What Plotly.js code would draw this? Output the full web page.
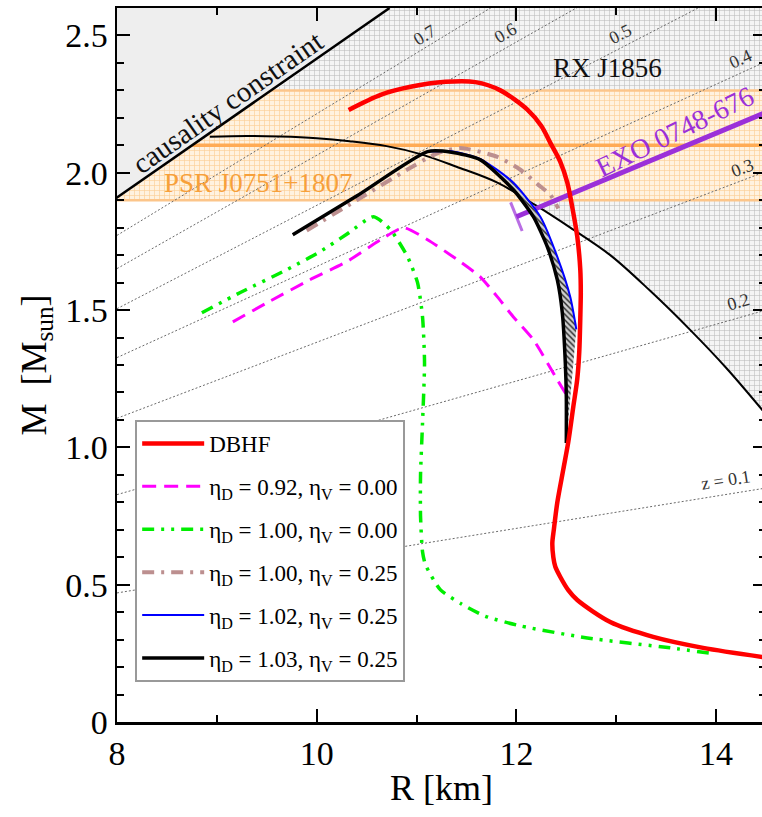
<!DOCTYPE html>
<html><head><meta charset="utf-8">
<script src="https://cdn.plot.ly/plotly-3.0.1.min.js"></script>
<style>
html,body{margin:0;padding:0;overflow:hidden;background:#fff}
#chart text {font-family:"Liberation Serif", serif !important;}
</style>
</head><body><div id="chart" style="width:770px;height:817px"></div>
<script>
// ---- data ----
const xRange = [8, 14.5];
const yRange = [0, 2.6];

// DBHF
const dbhfR = [10.32,10.64,10.94,11.29,11.59,11.84,12.11,12.25,12.34,12.44,12.51,12.57,12.61,12.64,12.645,12.64,12.63,12.61,12.57,12.52,12.47,12.41,12.375,12.36,12.37,12.39,12.44,12.52,12.61,12.94,13.37,13.87,14.5];
const dbhfM = [2.229,2.284,2.313,2.331,2.33,2.30,2.23,2.17,2.109,2.04,1.964,1.854,1.767,1.647,1.563,1.47,1.35,1.25,1.148,1.02,0.92,0.80,0.70,0.652,0.60,0.565,0.528,0.48,0.444,0.364,0.31,0.27,0.235];
// eta_D = 0.92, eta_V = 0.00
const m092R = [9.16,9.50,9.93,10.30,10.64,10.87,11.11,11.41,11.64,11.81,11.97,12.17,12.41,12.52];
const m092M = [1.457,1.526,1.61,1.676,1.756,1.80,1.756,1.683,1.62,1.548,1.475,1.392,1.246,1.18];
// eta_D = 1.00, eta_V = 0.00
const m100R = [8.85,9.23,9.70,10.03,10.30,10.57,10.74,10.91,11.01,11.06,11.08,11.06,11.04,11.04,11.06,11.09,11.24,11.45,11.69,12.04,12.71,13.54,13.95];
const m100M = [1.49,1.563,1.647,1.712,1.776,1.84,1.792,1.694,1.60,1.475,1.308,1.089,0.90,0.75,0.62,0.572,0.481,0.43,0.385,0.35,0.306,0.27,0.25];
// eta_D = 1.00, eta_V = 0.25
const m100vR = [9.9,10.4,10.9,11.2,11.44,11.81,12.04,12.22,12.34,12.42];
const m100vM = [1.79,1.90,2.01,2.07,2.09,2.058,2.011,1.956,1.92,1.87];
// eta_D = 1.02, eta_V = 0.25
const m102R = [11.11,11.35,11.64,11.97,12.24,12.41,12.54,12.59,12.60];
const m102M = [2.077,2.078,2.05,1.964,1.84,1.694,1.548,1.453,1.43];
// eta_D = 1.03, eta_V = 0.25
const m103R = [9.76,10.4,11.11,11.35,11.64,11.97,12.17,12.31,12.41,12.46,12.49,12.50,12.50];
const m103M = [1.774,1.915,2.077,2.075,2.047,1.938,1.84,1.73,1.61,1.49,1.308,1.184,1.016];

// causality constraint line
const causR = [8, 10.73];
const causM = [1.91, 2.6];
// RX J1856 constraint curve
const rxR = [8.93,9.3,9.63,10.0,10.33,10.7,11.04,11.4,11.81,12.2,12.54,12.94,13.34,13.74,14.1,14.5];
const rxM = [2.131,2.134,2.132,2.126,2.115,2.097,2.068,2.022,1.964,1.88,1.80,1.70,1.57,1.428,1.29,1.12];
// PSR J0751+1807 : M = 2.1 +- 0.2
const psrMass = 2.1, psrErr = 0.2;
// EXO 0748-676
const exoR = [12.0, 14.5];
const exoM = [1.84, 2.22];
// gravitational redshift lines
const zLabels = ['z = 0.1','0.2','0.3','0.4','0.5','0.6','0.7'];
const zLineR = [8, 14.5];
const zLineM = [[0.470,0.852],[0.828,1.500],[1.106,2.005],[1.327,2.405],[1.505,2.728],[1.651,2.992],[1.772,3.211]];
const zLabelR = [14.10,14.22,14.26,14.24,13.04,11.89,11.08];
const zLabelM = [0.88,1.53,2.018,2.415,2.506,2.51,2.503];
const zLabelAng = [-9,-16,-21,-25,-27,-30,-31];
// axis ticks
const xTickVals = [8,10,12,14];
const xTickText = ['8','10','12','14'];
const yTickVals = [0,0.5,1,1.5,2,2.5];
const yTickText = ['0','0.5','1.0','1.5','2.0','2.5'];

// ---- build ----
const SERIF = 'Liberation Serif';
function causX(m){ return causR[0] + (m - causM[0])*(causR[1]-causR[0])/(causM[1]-causM[0]); }
const traces = [];
const bg = {mode:'lines', hoverinfo:'skip', showlegend:false};

// RX J1856 excluded region
traces.push(Object.assign({}, bg, {
  x: rxR.concat([xRange[1], causR[1]]), y: rxM.concat([yRange[1], causM[1]]),
  line:{width:0}, fill:'toself', fillcolor:'#f2f2f2',
  fillpattern:{shape:'+', bgcolor:'#f5f5f5', fgcolor:'#bdbdbd', size:5, solidity:0.22}
}));
// PSR band
const lo = psrMass - psrErr, hi = psrMass + psrErr;
traces.push(Object.assign({}, bg, {
  x: [causX(lo), xRange[1], xRange[1], causX(hi)], y: [lo, lo, hi, hi],
  line:{width:0}, fill:'toself', fillcolor:'#fff0dc',
  fillpattern:{shape:'+', bgcolor:'#fff2e0', fgcolor:'#fccf98', size:5, solidity:0.25}
}));
[[lo,'#fcc58a',2.5],[hi,'#fcc58a',2.5],[psrMass,'#ffab55',3.5]].forEach(function(b){
  traces.push(Object.assign({}, bg, {x:[causX(b[0]), xRange[1]], y:[b[0], b[0]], line:{color:b[1], width:b[2]}}));
});
// redshift lines
zLineM.forEach(function(m){
  traces.push(Object.assign({}, bg, {x: zLineR, y: m, line:{color:'#6a6a6a', width:1, dash:'2px,2px'}}));
});
// causality region
traces.push(Object.assign({}, bg, {
  x: [causR[0], causR[1], xRange[0]], y: [causM[0], causM[1], yRange[1]],
  line:{width:0}, fill:'toself', fillcolor:'#eeeeee'
}));
traces.push(Object.assign({}, bg, {x: [xRange[0]-0.2].concat(causR), y: [causM[0]-0.2*(causM[1]-causM[0])/(causR[1]-causR[0])].concat(causM), line:{color:'#000', width:2.5}}));
// RX curve
traces.push(Object.assign({}, bg, {x: rxR, y: rxM, line:{color:'#000', width:2, shape:'spline'}}));
// EXO
traces.push({x: exoR, y: exoM, mode:'lines+markers', hoverinfo:'skip', showlegend:false,
  line:{color:'#9b30d9', width:5},
  marker:{symbol:'line-ns-open', size:[22,0], angle:-22, color:'#9b30d9', line:{color:'#9b30d9', width:3}}});

// model curves
traces.push({name:'η<sub>D</sub> = 0.92, η<sub>V</sub> = 0.00', legendrank:2, legendgroup:'g2', x:m092R, y:m092M, mode:'lines',
  line:{color:'#ff00ff', width:3, dash:'14px,8px', shape:'spline', smoothing:0.6}});
traces.push({name:'η<sub>D</sub> = 1.00, η<sub>V</sub> = 0.00', legendrank:3, legendgroup:'g3', x:m100R, y:m100M, mode:'lines',
  line:{color:'#00ee00', width:3.5, dash:'12px,7px,3px,7px,3px,7px', shape:'spline', smoothing:0.6}});
traces.push({name:'η<sub>D</sub> = 1.00, η<sub>V</sub> = 0.25', legendrank:4, legendgroup:'g4', x:m100vR, y:m100vM, mode:'lines',
  line:{color:'#bc8f8f', width:4, dash:'12px,7px,3px,7px', shape:'spline', smoothing:0.6}});
// hatched band between eta_D = 1.02 and 1.03
const ip = m103M.indexOf(Math.max.apply(null, m103M));
traces.push(Object.assign({}, bg, {
  x: m103R.slice(ip).concat(m102R.slice().reverse()), y: m103M.slice(ip).concat(m102M.slice().reverse()),
  line:{width:0}, fill:'toself', fillcolor:'#bbbbbb',
  fillpattern:{shape:'\\', bgcolor:'#d0d0d0', fgcolor:'#222', size:4, solidity:0.35}
}));
traces.push({name:'η<sub>D</sub> = 1.02, η<sub>V</sub> = 0.25', legendrank:5, legendgroup:'g5', x:m102R, y:m102M, mode:'lines',
  line:{color:'#0000ff', width:2, shape:'spline', smoothing:0.6}});
traces.push({name:'η<sub>D</sub> = 1.03, η<sub>V</sub> = 0.25', legendrank:6, legendgroup:'g6', x:m103R, y:m103M, mode:'lines',
  line:{color:'#000', width:3.5, shape:'spline', smoothing:0.6}});
traces.push({name:'DBHF', legendrank:1, legendgroup:'g1', x:dbhfR, y:dbhfM, mode:'lines',
  line:{color:'#ff0000', width:4.5, shape:'spline', smoothing:0.8}});

const ann = [];
zLabels.forEach(function(t,i){
  ann.push({x:zLabelR[i], y:zLabelM[i], xref:'x', yref:'y', text:t, showarrow:false, textangle:zLabelAng[i],
    font:{family:SERIF, size:18, color:'#333'}});
});
ann.push({x:9.11, y:2.258, xref:'x', yref:'y', text:'causality constraint', showarrow:false, textangle:-35,
  font:{family:SERIF, size:29, color:'#111'}});
ann.push({x:12.91, y:2.382, xref:'x', yref:'y', text:'RX J1856', showarrow:false,
  font:{family:SERIF, size:27, color:'#111'}});
ann.push({x:9.42, y:1.964, xref:'x', yref:'y', text:'PSR J0751+1807', showarrow:false,
  font:{family:SERIF, size:27, color:'#f7a03a'}});
ann.push({x:13.59, y:2.149, xref:'x', yref:'y', text:'EXO 0748-676', showarrow:false, textangle:-26,
  font:{family:SERIF, size:28, color:'#9b30d9'}});

const layout = {
  width:770, height:817, margin:{l:117, r:4, t:8, b:95},
  font:{family:SERIF, size:34, color:'#000'},
  paper_bgcolor:'#fff', plot_bgcolor:'#fff',
  xaxis: {range:xRange, tickmode:'array', tickvals:xTickVals, ticktext:xTickText,
    showline:true, linecolor:'#000', linewidth:2.5, mirror:'ticks', ticks:'inside',
    ticklen:13, tickwidth:2, tickcolor:'#000', showgrid:false, zeroline:false,
    tickfont:{family:SERIF, size:34, color:'#000'},
    minor:{dtick:1, tick0:8, ticks:'inside', ticklen:7, tickwidth:2, tickcolor:'#000', showgrid:false},
    title:{text:'R [km]', font:{family:SERIF, size:36, color:'#000'}, standoff:4}},
  yaxis: {range:yRange, tickmode:'array', tickvals:yTickVals, ticktext:yTickText,
    showline:true, linecolor:'#000', linewidth:2.5, mirror:'ticks', ticks:'inside',
    ticklen:13, tickwidth:2, tickcolor:'#000', showgrid:false, zeroline:false,
    tickfont:{family:SERIF, size:34, color:'#000'},
    minor:{dtick:0.1, tick0:0, ticks:'inside', ticklen:7, tickwidth:2, tickcolor:'#000', showgrid:false},
    title:{text:'M  [M<sub>sun</sub>]', font:{family:SERIF, size:36, color:'#000'}, standoff:8}},
  showlegend:true,
  legend:{x:0.028, y:0.423, xanchor:'left', yanchor:'top', bgcolor:'#fff', bordercolor:'#999', borderwidth:2,
    font:{family:SERIF, size:23, color:'#000'}, traceorder:'grouped', tracegroupgap:10, itemwidth:62},
  annotations: ann
};
Plotly.newPlot('chart', traces, layout, {displayModeBar:false, staticPlot:true});
</script></body></html>
